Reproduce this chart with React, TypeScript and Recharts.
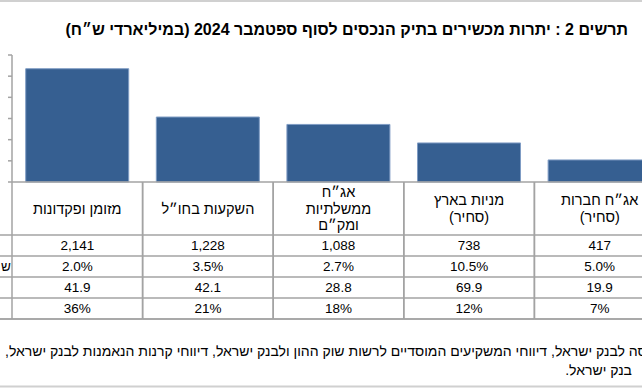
import { BarChart, Bar, XAxis, YAxis } from 'recharts';

// categories in reading order (right to left on screen)
const categories = ['אג״ח חברות (סחיר)', 'מניות בארץ (סחיר)', 'אג״ח ממשלתיות ומק״ם', 'השקעות בחו״ל', 'מזומן ופקדונות'];
const headerLines = [['אג״ח חברות', '(סחיר)'], ['מניות בארץ', '(סחיר)'], ['אג״ח', 'ממשלתיות', 'ומק״ם'], ['השקעות בחו״ל'], ['מזומן ופקדונות']];
const balances = [417, 738, 1088, 1228, 2141];
const balanceRow = ['417', '738', '1,088', '1,228', '2,141'];
const returnRow = ['5.0%', '10.5%', '2.7%', '3.5%', '2.0%'];
const changeRow = ['19.9', '69.9', '28.8', '42.1', '41.9'];
const shareRow = ['7%', '12%', '18%', '21%', '36%'];
// only the edge of the row-label column is inside the frame
const rowLabelEdges = ['', 'ש', '', ''];
const yTicks = [0, 400, 800, 1200, 1600, 2000, 2400];

const title = 'תרשים 2 : יתרות מכשירים בתיק הנכסים לסוף ספטמבר 2024 (במיליארדי ש״ח)';
const sourceLine1 = 'מקור: דיווחי הבורסה לבנק ישראל, דיווחי המשקיעים המוסדיים לרשות שוק ההון ולבנק ישראל, דיווחי קרנות הנאמנות לבנק ישראל,';
const sourceLine2 = 'בנק ישראל.';

const data = categories.map((name, i) => ({ name, value: balances[i] }));
const rows = [balanceRow, returnRow, changeRow, shareRow];

const FONT = '"Liberation Sans", "DejaVu Sans", sans-serif';
const GRID = '#a3a3a3';
const BAR = '#365F91';

// layout (page px)
const CHART_LEFT = -48;
const PLOT_LEFT = 12;
const PLOT_RIGHT = 665;
const BASE = 182;
const BAND = (PLOT_RIGHT - PLOT_LEFT) / categories.length;
const HEADER_BOTTOM = 235;
const ROW_LINES = [235, 256, 277, 298, 319];

const TableTick = (props: any) => {
  const { x, payload } = props;
  const i = categories.indexOf(payload.value);
  const left = x - BAND / 2;
  const right = x + BAND / 2;
  const lines = headerLines[i];
  const lh = 16.5;
  const headMid = (BASE + HEADER_BOTTOM) / 2;
  return (
    <g>
      <line x1={left} x2={left} y1={BASE} y2={ROW_LINES[4]} stroke={GRID} strokeWidth={1.5} />
      <line x1={right} x2={right} y1={BASE} y2={ROW_LINES[4]} stroke={GRID} strokeWidth={1.5} />
      {ROW_LINES.map((ly) => (
        <line key={ly} x1={left} x2={right} y1={ly} y2={ly} stroke={GRID} strokeWidth={1.5} />
      ))}
      {lines.map((t, k) => (
        <text key={k} x={x} y={headMid - ((lines.length - 1) * lh) / 2 + k * lh + 5} textAnchor="middle" direction="rtl" fontSize={14.5} fontFamily={FONT} fill="#000">
          {t}
        </text>
      ))}
      {rows.map((r, k) => (
        <text key={k} x={x} y={(ROW_LINES[k] + ROW_LINES[k + 1]) / 2 + 4.5} textAnchor="middle" fontSize={13.5} fontFamily={FONT} fill="#000">
          {r[i]}
        </text>
      ))}
    </g>
  );
};

export default function App() {
  const chartWidth = PLOT_RIGHT - CHART_LEFT;
  return (
    <div style={{ position: 'absolute', left: 0, top: 0, width: 642, height: 388, overflow: 'hidden', background: '#fff', fontFamily: FONT }}>
      <div style={{ position: 'absolute', left: 0, top: 0, width: 642, height: 2, background: '#d0d0d0' }} />
      <div dir="rtl" style={{ position: 'absolute', right: 14, top: 21, fontSize: 16, fontWeight: 'bold', whiteSpace: 'nowrap', color: '#000' }}>
        {title}
      </div>

      <div style={{ position: 'absolute', left: CHART_LEFT, top: 0 }}>
        <BarChart width={chartWidth} height={330} data={data} margin={{ top: 55, right: 0, bottom: 0, left: 0 }} barCategoryGap="10.5%">
          <XAxis dataKey="name" reversed interval={0} height={148} axisLine={{ stroke: GRID, strokeWidth: 1.5 }} tickLine={false} tick={(p: any) => <TableTick {...p} />} />
          <YAxis width={60} domain={[0, 2400]} ticks={yTicks} tickSize={4} tickFormatter={() => ''} axisLine={{ stroke: GRID, strokeWidth: 1.5 }} tickLine={{ stroke: GRID, strokeWidth: 1.5 }} />
          <Bar dataKey="value" fill={BAR} stroke="#7f9cc4" strokeWidth={1} isAnimationActive={false} />
        </BarChart>
      </div>

      <svg width={642} height={388} style={{ position: 'absolute', left: 0, top: 0, overflow: 'hidden' }}>
        {ROW_LINES.map((ly) => (
          <line key={ly} x1={0} x2={PLOT_LEFT} y1={ly} y2={ly} stroke={GRID} strokeWidth={1.5} />
        ))}
        <line x1={0} x2={642} y1={ROW_LINES[4]} y2={ROW_LINES[4]} stroke={GRID} strokeWidth={1.5} />
        {rowLabelEdges.map((t, k) => (
          <text key={k} x={1} y={(ROW_LINES[k] + ROW_LINES[k + 1]) / 2 + 4.5} fontSize={13.5} fontFamily={FONT} fill="#000">
            {t}
          </text>
        ))}
        <line x1={0} x2={642} y1={386.5} y2={386.5} stroke="#d0d0d0" strokeWidth={2} />
      </svg>

      <div dir="rtl" style={{ position: 'absolute', left: 5, top: 343, fontSize: 14, whiteSpace: 'nowrap', color: '#000' }}>
        {sourceLine1}
      </div>
      <div dir="rtl" style={{ position: 'absolute', right: 10, top: 362, fontSize: 14, whiteSpace: 'nowrap', color: '#000' }}>
        {sourceLine2}
      </div>
    </div>
  );
}
